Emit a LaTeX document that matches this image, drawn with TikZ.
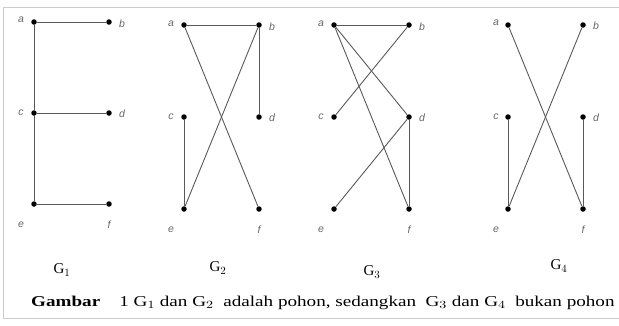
\documentclass[tikz,border=0pt]{standalone}
\usepackage{fontspec}
\setmainfont{Liberation Serif}
\newfontfamily\lblfont{Liberation Sans}
\begin{document}
\begin{tikzpicture}[x=1pt,y=-1pt,
  vtx/.style={circle,fill=black,inner sep=0pt,minimum size=5.5pt},
  edge/.style={draw=black!65,line width=0.9pt},
  lbl/.style={font=\lblfont\itshape\fontsize{10.5}{10.5}\selectfont,text=black!60,inner sep=0pt},
  gname/.style={font=\fontsize{15}{15}\selectfont,inner sep=0pt},
  frame/.style={draw=black!20,line width=1pt}]
\useasboundingbox (0,0) rectangle (619,325);
\coordinate (ftl) at (3,7);
\coordinate (ftr) at (619,7);
\coordinate (fbl) at (3,318);
\coordinate (fbr) at (619,318);
\draw[frame] (ftr) -- (ftl) -- (fbl) -- (fbr);

% G1
\foreach \n/\x/\y in {a/34/22,b/109/22,c/34/113,d/109/113,e/34/204,f/109/204}
  \node[vtx] (g1\n) at (\x,\y) {};
\node[lbl] (g1la) at (21,20) {a};
\node[lbl] (g1lb) at (122,24) {b};
\node[lbl] (g1lc) at (21,113) {c};
\node[lbl] (g1ld) at (122,114) {d};
\node[lbl] (g1le) at (21,225) {e};
\node[lbl] (g1lf) at (109,225) {f};
\draw[edge] (g1a) -- (g1b);
\draw[edge] (g1a) -- (g1c);
\draw[edge] (g1c) -- (g1e);
\draw[edge] (g1c) -- (g1d);
\draw[edge] (g1e) -- (g1f);

% G2
\foreach \n/\x/\y in {a/184/25,b/259/25,c/184/117,d/259/117,e/184/209,f/259/209}
  \node[vtx] (g2\n) at (\x,\y) {};
\node[lbl] (g2la) at (171,24) {a};
\node[lbl] (g2lb) at (272,27) {b};
\node[lbl] (g2lc) at (171,117) {c};
\node[lbl] (g2ld) at (272,118) {d};
\node[lbl] (g2le) at (171,230) {e};
\node[lbl] (g2lf) at (259,230) {f};
\draw[edge] (g2a) -- (g2b);
\draw[edge] (g2a) -- (g2f);
\draw[edge] (g2b) -- (g2e);
\draw[edge] (g2b) -- (g2d);
\draw[edge] (g2c) -- (g2e);

% G3
\foreach \n/\x/\y in {a/334/25,b/409/25,c/334/117,d/409/117,e/334/209,f/409/209}
  \node[vtx] (g3\n) at (\x,\y) {};
\node[lbl] (g3la) at (321,24) {a};
\node[lbl] (g3lb) at (422,27) {b};
\node[lbl] (g3lc) at (321,117) {c};
\node[lbl] (g3ld) at (422,118) {d};
\node[lbl] (g3le) at (321,230) {e};
\node[lbl] (g3lf) at (409,230) {f};
\draw[edge] (g3a) -- (g3b);
\draw[edge] (g3a) -- (g3d);
\draw[edge] (g3a) -- (g3f);
\draw[edge] (g3b) -- (g3c);
\draw[edge] (g3d) -- (g3e);
\draw[edge] (g3d) -- (g3f);

% G4
\foreach \n/\x/\y in {a/508/25,b/583/25,c/508/117,d/583/117,e/508/209,f/583/209}
  \node[vtx] (g4\n) at (\x,\y) {};
\node[lbl] (g4la) at (496,23) {a};
\node[lbl] (g4lb) at (596,26) {b};
\node[lbl] (g4lc) at (496,117) {c};
\node[lbl] (g4ld) at (596,118) {d};
\node[lbl] (g4le) at (496,230) {e};
\node[lbl] (g4lf) at (583,230) {f};
\draw[edge] (g4a) -- (g4f);
\draw[edge] (g4b) -- (g4e);
\draw[edge] (g4c) -- (g4e);
\draw[edge] (g4d) -- (g4f);

% graph names
\node[gname] (n1) at (62,270) {G$_1$};
\node[gname] (n2) at (218,268) {G$_2$};
\node[gname] (n3) at (372,272) {G$_3$};
\node[gname] (n4) at (559,266) {G$_4$};

% caption
\node[anchor=west,inner sep=0pt,font=\fontsize{15}{15}\selectfont] (cap) at (31,303)
  {\scalebox{1.275}[1]{\textbf{Gambar}\hspace{1em}1 G$_1$ dan G$_2$\ \ adalah pohon, sedangkan\ \ G$_3$ dan G$_4$\ \ bukan pohon}};
\end{tikzpicture}
\end{document}
